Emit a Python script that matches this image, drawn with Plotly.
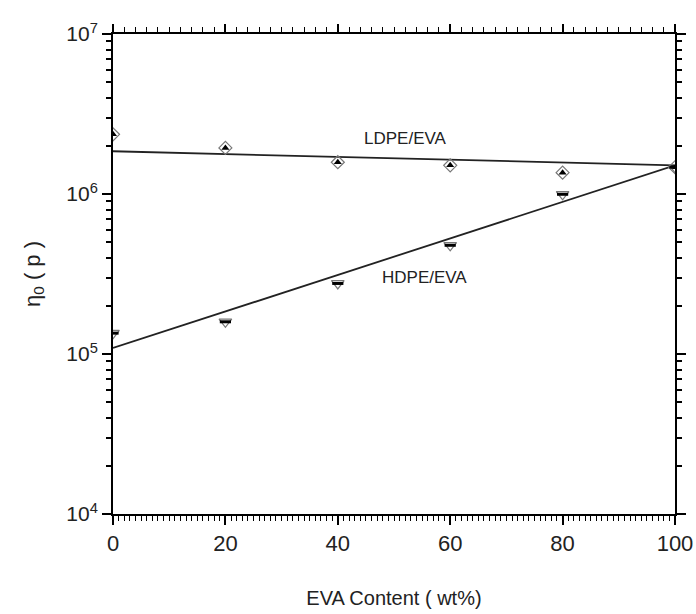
import plotly.graph_objects as go

# data
eva_content = [0, 20, 40, 60, 80, 100]
ldpe_eva = [2.36e6, 1.94e6, 1.58e6, 1.51e6, 1.36e6, 1.47e6]
hdpe_eva = [1.35e5, 1.59e5, 2.76e5, 4.78e5, 9.96e5, 1.47e6]
fit_x = [0, 100]
ldpe_fit = [1.85e6, 1.51e6]
hdpe_fit = [1.09e5, 1.51e6]
y_tickvals = [1e4, 1e5, 1e6, 1e7]
y_ticktext = ["10<sup>4</sup>", "10<sup>5</sup>", "10<sup>6</sup>", "10<sup>7</sup>"]
x_tickvals = [0, 20, 40, 60, 80, 100]

FONT = "Liberation Sans, Arial, sans-serif"

fig = go.Figure()

# fit lines
fig.add_trace(go.Scatter(x=fit_x, y=ldpe_fit, mode="lines",
                         line=dict(color="#222", width=1.8), showlegend=False))
fig.add_trace(go.Scatter(x=fit_x, y=hdpe_fit, mode="lines",
                         line=dict(color="#222", width=1.8), showlegend=False))

# LDPE/EVA markers (half-filled diamond look)
fig.add_trace(go.Scatter(x=eva_content, y=ldpe_eva, mode="markers",
                         marker=dict(symbol="diamond-open", size=10,
                                     color="#777", line=dict(width=1.2, color="#777")),
                         showlegend=False))
fig.add_trace(go.Scatter(x=eva_content, y=ldpe_eva, mode="markers",
                         marker=dict(symbol="triangle-up", size=7, color="black",
                                     line=dict(width=0)),
                         showlegend=False))

# HDPE/EVA markers
fig.add_trace(go.Scatter(x=eva_content, y=hdpe_eva, mode="markers",
                         marker=dict(symbol="triangle-down-open", size=11,
                                     color="#777", line=dict(width=1.2, color="#777")),
                         showlegend=False))
fig.add_trace(go.Scatter(x=eva_content, y=hdpe_eva, mode="markers",
                         marker=dict(symbol="line-ew", size=8, color="black",
                                     line=dict(width=3, color="black")),
                         showlegend=False))

# labels on lines
fig.add_annotation(x=52, y=6.345, xref="x", yref="y", text="LDPE/EVA",
                   showarrow=False, font=dict(family=FONT, size=17, color="#222"))
fig.add_annotation(x=55.5, y=5.48, xref="x", yref="y", text="HDPE/EVA",
                   showarrow=False, font=dict(family=FONT, size=17, color="#222"))

# dummy traces for secondary axes
fig.add_trace(go.Scatter(x=[None], y=[None], xaxis="x2", yaxis="y2", showlegend=False))

axis_common = dict(showline=True, linecolor="black", linewidth=2, mirror=False,
                   showgrid=False, zeroline=False, tickcolor="black", tickwidth=1.5,
                   automargin=False)

fig.update_layout(
    width=696, height=614,
    margin=dict(l=113, r=21, t=34, b=100),
    paper_bgcolor="white", plot_bgcolor="white",
    font=dict(family=FONT, color="#222"),
    xaxis=dict(range=[0, 100], tickmode="array", tickvals=x_tickvals,
               ticks="outside", ticklen=9,
               minor=dict(ticks="outside", ticklen=5, dtick=1, tickwidth=1,
                          tickcolor="black", showgrid=False),
               tickfont=dict(family=FONT, size=22, color="#222"),
               title=dict(text="EVA Content ( wt%)", standoff=36,
                          font=dict(family=FONT, size=20, color="#222")),
               **axis_common),
    xaxis2=dict(range=[0, 100], overlaying="x", side="top", tickmode="array",
                tickvals=x_tickvals, showticklabels=False,
                ticks="outside", ticklen=8,
                minor=dict(ticks="outside", ticklen=5, dtick=2, tickwidth=1.2,
                           tickcolor="black", showgrid=False),
                **axis_common),
    yaxis=dict(type="log", range=[4, 7], tickmode="array", tickvals=y_tickvals,
               ticktext=y_ticktext, ticks="outside", ticklen=9,
               minor=dict(ticks="outside", ticklen=5, dtick="D1", tickwidth=1.5,
                          tickcolor="black", showgrid=False),
               tickfont=dict(family=FONT, size=21, color="#222"),
               title=dict(text="η<sub>0</sub> ( p )", standoff=20,
                          font=dict(family=FONT, size=22, color="#222")),
               **axis_common),
    yaxis2=dict(type="log", range=[4, 7], overlaying="y", side="right",
                tickmode="array", tickvals=y_tickvals, showticklabels=False,
                ticks="outside", ticklen=9,
                minor=dict(ticks="outside", ticklen=5, dtick="D1", tickwidth=1.5,
                           tickcolor="black", showgrid=False),
                **axis_common),
)

fig.write_html("out.html")
